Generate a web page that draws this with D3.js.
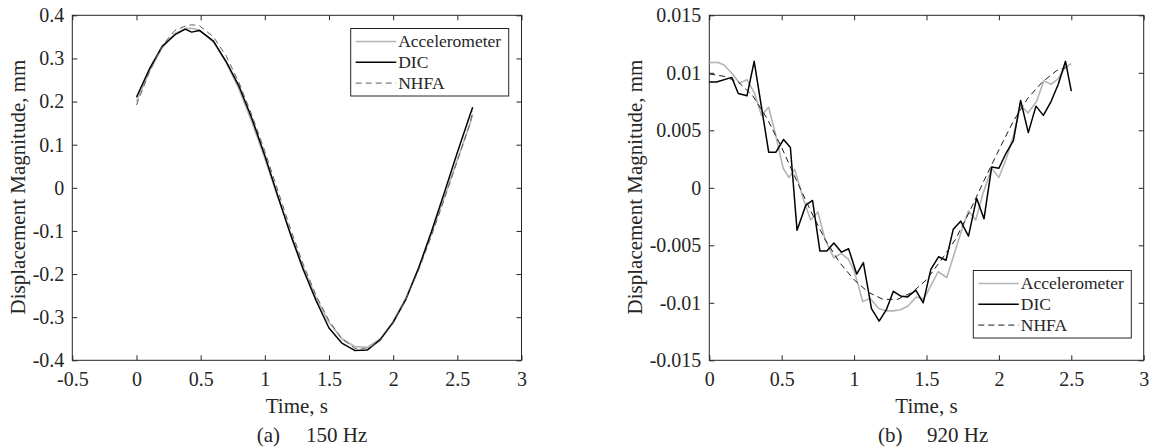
<!DOCTYPE html>
<html lang="en">
<head>
<meta charset="UTF-8">
<title>Displacement magnitude: accelerometer, DIC, NHFA</title>
<script src="https://cdn.jsdelivr.net/npm/d3@7"></script>
<style>
  body { margin: 0; background: #fff; }
  text { font-family: "Liberation Serif", "Times New Roman", serif; fill: #262626; }
</style>
</head>
<body>
<svg id="chart" width="1152" height="447"></svg>
<script>
// (a) 150 Hz
var t150 = [0, 0.1, 0.2, 0.3, 0.38, 0.43, 0.49, 0.6, 0.7, 0.8, 0.9, 1.0, 1.1, 1.2, 1.3, 1.4, 1.5, 1.6, 1.7, 1.8, 1.9, 2.0, 2.1, 2.2, 2.3, 2.4, 2.5, 2.6, 2.62];
var acc150 = [0.200, 0.270, 0.325, 0.358, 0.369, 0.370, 0.366, 0.338, 0.290, 0.228, 0.152, 0.068, -0.020, -0.105, -0.185, -0.255, -0.312, -0.350, -0.368, -0.370, -0.350, -0.310, -0.255, -0.185, -0.105, -0.020, 0.065, 0.150, 0.170];
var dic150 = [0.210, 0.275, 0.328, 0.355, 0.368, 0.361, 0.365, 0.340, 0.292, 0.235, 0.160, 0.075, -0.018, -0.108, -0.190, -0.262, -0.325, -0.360, -0.377, -0.376, -0.352, -0.312, -0.258, -0.185, -0.100, -0.010, 0.082, 0.170, 0.187];
var nhfa150 = [0.192, 0.268, 0.330, 0.365, 0.375, 0.378, 0.376, 0.350, 0.305, 0.243, 0.168, 0.085, -0.005, -0.095, -0.178, -0.250, -0.308, -0.350, -0.372, -0.374, -0.354, -0.314, -0.258, -0.190, -0.110, -0.025, 0.062, 0.150, 0.178];

// (b) 920 Hz
var tAcc920 = [0, 0.06, 0.1, 0.16, 0.21, 0.26, 0.31, 0.36, 0.41, 0.46, 0.51, 0.55, 0.59, 0.65, 0.7, 0.75, 0.8, 0.86, 0.91, 0.96, 1.0, 1.06, 1.11, 1.17, 1.22, 1.27, 1.32, 1.37, 1.43, 1.48, 1.53, 1.58, 1.64, 1.69, 1.74, 1.79, 1.84, 1.89, 1.95, 2.0, 2.05, 2.1, 2.15, 2.2, 2.26, 2.31, 2.36, 2.41, 2.46, 2.5];
var acc920 = [0.0109, 0.0109, 0.0107, 0.0099, 0.0091, 0.0094, 0.0083, 0.0063, 0.0070, 0.0045, 0.0017, 0.0009, 0.0016, -0.0010, -0.0028, -0.0021, -0.0045, -0.0061, -0.0057, -0.0062, -0.0072, -0.0099, -0.0096, -0.0105, -0.0107, -0.0107, -0.0106, -0.0103, -0.0095, -0.0097, -0.0085, -0.0073, -0.0078, -0.0058, -0.0038, -0.0020, -0.0028, -0.0005, 0.0017, 0.0009, 0.0025, 0.0045, 0.0072, 0.0065, 0.0075, 0.0093, 0.0090, 0.0095, 0.0105, 0.0108];
var tDic920 = [0, 0.05, 0.155, 0.2, 0.26, 0.31, 0.41, 0.46, 0.513, 0.56, 0.606, 0.667, 0.713, 0.764, 0.812, 0.86, 0.913, 0.962, 1.018, 1.064, 1.12, 1.173, 1.223, 1.271, 1.32, 1.368, 1.426, 1.477, 1.53, 1.583, 1.635, 1.685, 1.736, 1.79, 1.846, 1.897, 1.95, 2.0, 2.049, 2.1, 2.15, 2.203, 2.256, 2.307, 2.36, 2.41, 2.46, 2.5];
var dic920 = [0.0092, 0.0092, 0.0096, 0.0082, 0.0080, 0.0110, 0.0031, 0.0031, 0.0042, 0.0035, -0.0037, -0.0015, -0.0011, -0.0055, -0.0055, -0.0048, -0.0056, -0.0053, -0.0075, -0.0065, -0.0105, -0.0116, -0.0106, -0.0090, -0.0094, -0.0095, -0.0089, -0.0100, -0.0071, -0.0060, -0.0063, -0.0036, -0.0029, -0.0042, -0.0009, -0.0027, 0.0018, 0.0017, 0.0030, 0.0041, 0.0076, 0.0048, 0.0071, 0.0063, 0.0075, 0.0090, 0.0110, 0.0084];
var tNhfa920 = [0, 0.1, 0.2, 0.3, 0.4, 0.5, 0.6, 0.7, 0.8, 0.9, 1.0, 1.1, 1.2, 1.3, 1.4, 1.5, 1.6, 1.7, 1.8, 1.9, 2.0, 2.1, 2.2, 2.3, 2.4, 2.5];
var nhfa920 = [0.0099, 0.0097, 0.0092, 0.0080, 0.0060, 0.0035, 0.0007, -0.0020, -0.0045, -0.0065, -0.0080, -0.0091, -0.0097, -0.0097, -0.0091, -0.0080, -0.0063, -0.0045, -0.0020, 0.0007, 0.0033, 0.0058, 0.0078, 0.0092, 0.0102, 0.0106];

var seriesNames = ["Accelerometer", "DIC", "NHFA"];
var xTicksA = [-0.5, 0, 0.5, 1, 1.5, 2, 2.5, 3];
var yTicksA = [-0.4, -0.3, -0.2, -0.1, 0, 0.1, 0.2, 0.3, 0.4];
var xTicksB = [0, 0.5, 1, 1.5, 2, 2.5, 3];
var yTicksB = [-0.015, -0.01, -0.005, 0, 0.005, 0.01, 0.015];

var serif = "'Liberation Serif', 'Times New Roman', serif";
var svg = d3.select("#chart");
var top_ = 15.3, bottom = 360.3;

function panel(cfg) {
    var x = d3.scaleLinear().domain(cfg.xDomain).range([cfg.left, cfg.right]);
    var y = d3.scaleLinear().domain(cfg.yDomain).range([bottom, top_]);
    var g = svg.append("g");
    var fmt = function(d) { return String(d); };

    // ticks point inward on all four sides, labels only bottom and left
    var axes = [
        g.append("g").attr("transform", "translate(0," + bottom + ")")
            .call(d3.axisBottom(x).tickValues(cfg.xTicks).tickSize(-5).tickPadding(12).tickFormat(fmt)),
        g.append("g").attr("transform", "translate(0," + top_ + ")")
            .call(d3.axisTop(x).tickValues(cfg.xTicks).tickSize(-5).tickFormat("")),
        g.append("g").attr("transform", "translate(" + cfg.left + ",0)")
            .call(d3.axisLeft(y).tickValues(cfg.yTicks).tickSize(-5).tickPadding(8).tickFormat(fmt)),
        g.append("g").attr("transform", "translate(" + cfg.right + ",0)")
            .call(d3.axisRight(y).tickValues(cfg.yTicks).tickSize(-5).tickFormat(""))
    ];
    axes.forEach(function(a) { a.attr("font-family", serif).attr("font-size", 20); });
    g.selectAll(".domain").remove();
    g.selectAll(".tick line").attr("stroke", "#262626");
    g.selectAll(".tick text").attr("fill", "#262626").style("font-family", serif);

    g.append("rect")
        .attr("x", cfg.left).attr("y", top_)
        .attr("width", cfg.right - cfg.left).attr("height", bottom - top_)
        .attr("fill", "none").attr("stroke", "#262626");

    var line = d3.line().x(function(d) { return x(d[0]); }).y(function(d) { return y(d[1]); });
    var styles = [
        {color: "#b4b4b4", width: 1.6, dash: null},
        {color: "#000", width: 1.5, dash: null},
        {color: cfg.dashColor, width: 1, dash: "6,4"}
    ];
    cfg.series.forEach(function(s, i) {
        g.append("path")
            .datum(d3.zip(s[0], s[1]))
            .attr("fill", "none")
            .attr("stroke", styles[i].color)
            .attr("stroke-width", styles[i].width)
            .attr("stroke-dasharray", styles[i].dash)
            .attr("stroke-linejoin", "round")
            .attr("d", line);
    });

    // legend
    var lg = g.append("g").attr("transform", "translate(" + cfg.legend[0] + "," + cfg.legend[1] + ")");
    lg.append("rect").attr("width", 158).attr("height", 67.5)
        .attr("fill", "#fff").attr("stroke", "#262626").attr("stroke-width", 1);
    seriesNames.forEach(function(name, i) {
        var ly = 13 + i * 20.8;
        lg.append("line").attr("x1", 5).attr("x2", 45.5).attr("y1", ly).attr("y2", ly)
            .attr("stroke", styles[i].color).attr("stroke-width", styles[i].width)
            .attr("stroke-dasharray", styles[i].dash);
        lg.append("text").attr("x", 47.5).attr("y", ly + 5.5)
            .attr("font-size", 17.5).text(name);
    });

    // axis labels and caption
    var cx = (cfg.left + cfg.right) / 2;
    g.append("text").attr("x", cx).attr("y", 412.5).attr("text-anchor", "middle")
        .attr("font-size", 21).text("Time, s");
    g.append("text").attr("transform", "translate(" + cfg.yLabelX + ",187) rotate(-90)")
        .attr("text-anchor", "middle").attr("font-size", 21).text("Displacement Magnitude, mm");
    g.append("text").attr("x", cfg.caption[0]).attr("y", 441.5).attr("font-size", 21).text(cfg.caption[2]);
    g.append("text").attr("x", cfg.caption[1]).attr("y", 441.5).attr("font-size", 21).text(cfg.caption[3]);
}

panel({
    left: 72.3, right: 521.5,
    xDomain: [-0.5, 3], yDomain: [-0.4, 0.4],
    xTicks: xTicksA, yTicks: yTicksA,
    series: [[t150, acc150], [t150, dic150], [t150, nhfa150]],
    dashColor: "#5e5e5e",
    legend: [350.7, 28.5],
    yLabelX: 25,
    caption: [256.7, 306, "(a)", "150 Hz"]
});

panel({
    left: 709.3, right: 1143.7,
    xDomain: [0, 3], yDomain: [-0.015, 0.015],
    xTicks: xTicksB, yTicks: yTicksB,
    series: [[tAcc920, acc920], [tDic920, dic920], [tNhfa920, nhfa920]],
    dashColor: "#1a1a1a",
    legend: [973.3, 270.5],
    yLabelX: 642,
    caption: [878, 927, "(b)", "920 Hz"]
});
</script>
</body>
</html>
